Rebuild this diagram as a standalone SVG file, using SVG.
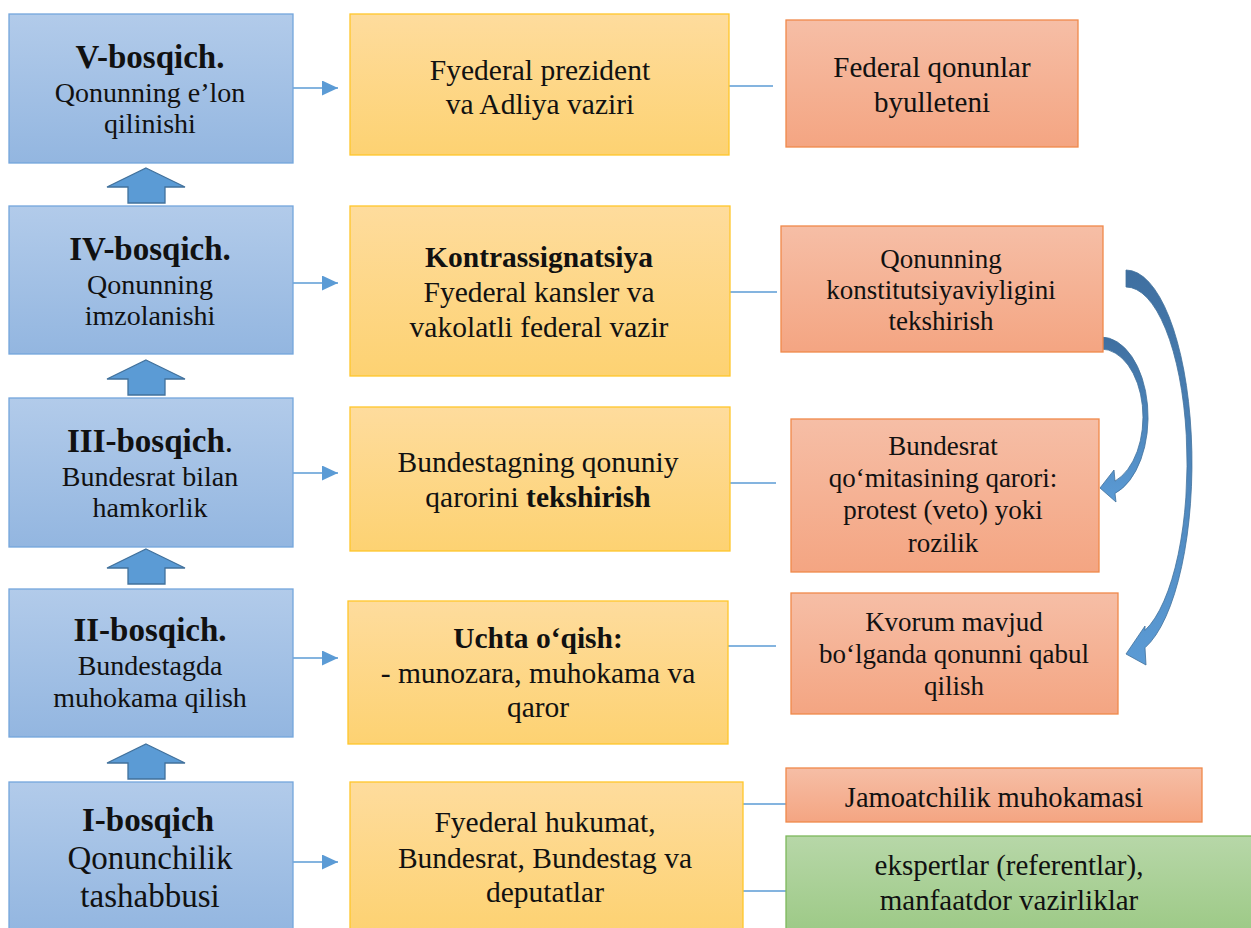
<svg xmlns="http://www.w3.org/2000/svg" width="1251" height="928" viewBox="0 0 1251 928" font-family="Liberation Serif, Times New Roman, serif">
<defs>
<linearGradient id="gBlue" x1="0" y1="0" x2="0" y2="1"><stop offset="0" stop-color="#b2cbea"/><stop offset="1" stop-color="#93b6e0"/></linearGradient>
<linearGradient id="gYel" x1="0" y1="0" x2="0" y2="1"><stop offset="0" stop-color="#fedc9d"/><stop offset="1" stop-color="#fdd272"/></linearGradient>
<linearGradient id="gOr" x1="0" y1="0" x2="0" y2="1"><stop offset="0" stop-color="#f6bea6"/><stop offset="1" stop-color="#f4a582"/></linearGradient>
<linearGradient id="gGr" x1="0" y1="0" x2="0" y2="1"><stop offset="0" stop-color="#b7d7a8"/><stop offset="1" stop-color="#9cc985"/></linearGradient>
<linearGradient id="gCurve" x1="0" y1="0" x2="0" y2="1"><stop offset="0" stop-color="#3f6fa0"/><stop offset="1" stop-color="#5b9bd5"/></linearGradient>
<marker id="tri" markerWidth="16" markerHeight="16" refX="16" refY="7.5" orient="auto" markerUnits="userSpaceOnUse"><path d="M0,0 L16,7.5 L0,15 Z" fill="#5b9bd5"/></marker>
</defs>
<style>
.blue{fill:url(#gBlue);stroke:#74a6dc;stroke-width:1.3}
.yel{fill:url(#gYel);stroke:#ffc62a;stroke-width:1.3}
.or{fill:url(#gOr);stroke:#f0894a;stroke-width:1.3}
.gr{fill:url(#gGr);stroke:#7db85c;stroke-width:1.3}
text{fill:#111;text-anchor:middle}
.h{font-weight:bold;font-size:33px}
.b{font-size:28px}
.b1{font-size:33px}
.y{font-size:29.5px}
.o{font-size:27px}
.ln{stroke:#5b9bd5;stroke-width:1.3;fill:none}
.up{fill:#5b9bd5;stroke:#41719c;stroke-width:1.3}
.cv{fill:url(#gCurve);stroke:#41719c;stroke-width:0.8}
</style>

<g id="connectors">
<line class="ln" x1="293" y1="88" x2="338" y2="88" marker-end="url(#tri)"/>
<line class="ln" x1="293" y1="283" x2="338" y2="283" marker-end="url(#tri)"/>
<line class="ln" x1="293" y1="473" x2="338" y2="473" marker-end="url(#tri)"/>
<line class="ln" x1="293" y1="658" x2="338" y2="658" marker-end="url(#tri)"/>
<line class="ln" x1="293" y1="862" x2="338" y2="862" marker-end="url(#tri)"/>
<line class="ln" x1="729" y1="86" x2="773" y2="86"/>
<line class="ln" x1="729" y1="292" x2="777" y2="292"/>
<line class="ln" x1="729" y1="483" x2="776" y2="483"/>
<line class="ln" x1="727" y1="646" x2="776" y2="646"/>
<line class="ln" x1="743" y1="804" x2="786" y2="804"/>
<line class="ln" x1="743" y1="891" x2="786" y2="891"/>
<path class="up" d="M146,168 L185,187 L165,187 L165,203 L128,203 L128,187 L107,187 Z"/>
<path class="up" d="M146,360 L185,379 L165,379 L165,395 L128,395 L128,379 L107,379 Z"/>
<path class="up" d="M146,549 L185,568 L165,568 L165,584 L128,584 L128,568 L107,568 Z"/>
<path class="up" d="M146,744 L185,763 L165,763 L165,779 L128,779 L128,763 L107,763 Z"/>
<path class="cv" d="M1126,270 A66,193 0 0 1 1145,647.8 L1146,665 L1126,654 L1145,626 L1145,630.3 A61,176 0 0 0 1126,287 Z"/>
<path class="cv" d="M1101,337 A47,80 0 0 1 1115,493.4 L1116,502 L1100,488 L1114,470 L1115,481.1 A42,68 0 0 0 1101,349 Z"/>
</g>

<g id="stage5">
<rect class="blue" x="9" y="14" width="284" height="149"/>
<text class="h" x="150" y="68">V-bosqich.</text>
<text class="b" x="150" y="102">Qonunning e’lon</text>
<text class="b" x="150" y="133">qilinishi</text>
</g>
<g id="stage4">
<rect class="blue" x="9" y="206" width="284" height="148"/>
<text class="h" x="150" y="260">IV-bosqich.</text>
<text class="b" x="150" y="294">Qonunning</text>
<text class="b" x="150" y="325">imzolanishi</text>
</g>
<g id="stage3">
<rect class="blue" x="9" y="398" width="284" height="149"/>
<text class="h" x="150" y="452">III-bosqich<tspan font-weight="normal">.</tspan></text>
<text class="b" x="150" y="486">Bundesrat bilan</text>
<text class="b" x="150" y="517">hamkorlik</text>
</g>
<g id="stage2">
<rect class="blue" x="9" y="589" width="284" height="148"/>
<text class="h" x="150" y="641">II-bosqich.</text>
<text class="b" x="150" y="675">Bundestagda</text>
<text class="b" x="150" y="707">muhokama qilish</text>
</g>
<g id="stage1">
<rect class="blue" x="9" y="782" width="284" height="150"/>
<text class="h" x="148" y="831">I-bosqich</text>
<text class="b1" x="150" y="869">Qonunchilik</text>
<text class="b1" x="150" y="907">tashabbusi</text>
</g>

<g id="y5">
<rect class="yel" x="350" y="14" width="379" height="141"/>
<text class="y" x="540" y="80">Fyederal prezident</text>
<text class="y" x="540" y="114">va Adliya vaziri</text>
</g>
<g id="y4">
<rect class="yel" x="350" y="206" width="380" height="170"/>
<text class="y" x="539" y="267" font-weight="bold">Kontrassignatsiya</text>
<text class="y" x="539" y="302">Fyederal kansler va</text>
<text class="y" x="539" y="337">vakolatli federal vazir</text>
</g>
<g id="y3">
<rect class="yel" x="350" y="407" width="380" height="144"/>
<text class="y" x="538" y="472">Bundestagning qonuniy</text>
<text class="y" x="538" y="507">qarorini <tspan font-weight="bold">tekshirish</tspan></text>
</g>
<g id="y2">
<rect class="yel" x="348" y="601" width="380" height="143"/>
<text class="y" x="538" y="648" font-weight="bold">Uchta o‘qish:</text>
<text class="y" x="538" y="683">- munozara, muhokama va</text>
<text class="y" x="538" y="717">qaror</text>
</g>
<g id="y1">
<rect class="yel" x="350" y="782" width="393" height="150"/>
<text class="y" x="545" y="832">Fyederal hukumat,</text>
<text class="y" x="545" y="868">Bundesrat, Bundestag va</text>
<text class="y" x="545" y="902">deputatlar</text>
</g>

<g id="o5">
<rect class="or" x="786" y="20" width="292" height="127"/>
<text x="932" y="77" font-size="29">Federal qonunlar</text>
<text x="932" y="112" font-size="29">byulleteni</text>
</g>
<g id="o4">
<rect class="or" x="781" y="226" width="322" height="126"/>
<text class="o" x="941" y="268">Qonunning</text>
<text class="o" x="941" y="299">konstitutsiyaviyligini</text>
<text class="o" x="941" y="330">tekshirish</text>
</g>
<g id="o3">
<rect class="or" x="791" y="419" width="308" height="153"/>
<text class="o" x="943" y="455">Bundesrat</text>
<text class="o" x="943" y="487">qo‘mitasining qarori:</text>
<text class="o" x="943" y="519">protest (veto) yoki</text>
<text class="o" x="943" y="552">rozilik</text>
</g>
<g id="o2">
<rect class="or" x="791" y="593" width="327" height="121"/>
<text class="o" x="954" y="631">Kvorum mavjud</text>
<text class="o" x="954" y="663">bo‘lganda qonunni qabul</text>
<text class="o" x="954" y="695">qilish</text>
</g>
<g id="o1">
<rect class="or" x="786" y="768" width="416" height="54"/>
<text x="994" y="807" font-size="28.5">Jamoatchilik muhokamasi</text>
</g>
<g id="g1">
<rect class="gr" x="786" y="836" width="470" height="100"/>
<text x="1009" y="875" font-size="29">ekspertlar (referentlar),</text>
<text x="1009" y="910" font-size="29">manfaatdor vazirliklar</text>
</g>
</svg>
